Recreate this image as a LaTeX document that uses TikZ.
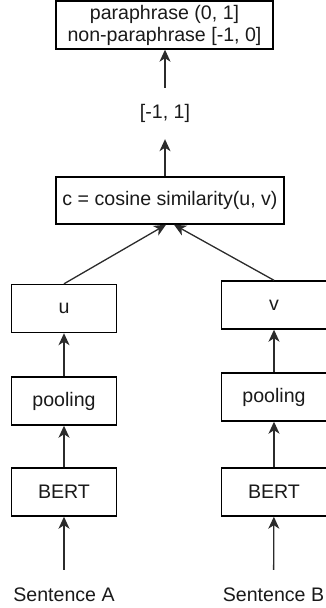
\documentclass[tikz,border=0pt]{standalone}
\usepackage{fontspec}
\setmainfont{Liberation Sans}
\usetikzlibrary{arrows.meta,calc}
\definecolor{ink}{HTML}{1A1A1A}
\definecolor{lin}{HTML}{2B2B2B}
\tikzset{
  box/.style={draw=black, line width=1.4pt, inner sep=0pt, minimum width=105pt, minimum height=48pt, text=ink, font=\fontsize{19.6}{22}\selectfont},
  lbl/.style={inner sep=0pt, text=ink, font=\fontsize{19.6}{22}\selectfont},
  arr/.style={draw=lin, line width=1.3pt, -{Stealth[length=12pt,width=11pt,inset=3.5pt]}}
}
\begin{document}
\begin{tikzpicture}[x=1pt,y=-1pt]
\useasboundingbox (0,0) rectangle (325,608);
\node[box, minimum width=217pt, minimum height=48pt, align=center] (top) at (164.5,25) {paraphrase (0, 1]\\non-paraphrase [-1, 0]};
\node[lbl, minimum height=51pt] (rng) at (165,113.5) {[-1, 1]};
\node[box, minimum width=228pt, minimum height=47pt] (cos) at (170,200.5) {c = cosine similarity(u, v)};
\node[box] (u) at (64,308.5) {u};
\node[box] (v) at (274,305) {v};
\node[box] (pa) at (64,401) {pooling};
\node[box] (pb) at (274,397) {pooling};
\node[box] (ba) at (64,492) {BERT};
\node[box] (bb) at (274,492) {BERT};
\node[lbl, minimum height=50pt] (sa) at (64,595) {Sentence A};
\node[lbl, minimum height=50pt] (sb) at (273.5,595) {Sentence B};
\draw[arr] (rng.north) -- (rng.north |- top.south);
\draw[arr] (cos.north -| rng.south) -- (rng.south);
\draw[arr] (u.north) -- ($(cos.south)+(-4,0)$);
\draw[arr] (v.north) -- ($(cos.south)+(4,0)$);
\draw[arr] (pa) -- (u);
\draw[arr] (pb) -- (v);
\draw[arr] (ba) -- (pa);
\draw[arr] (bb) -- (pb);
\draw[arr] (sa) -- (ba);
\draw[arr] (sb) -- (bb);
\end{tikzpicture}
\end{document}
